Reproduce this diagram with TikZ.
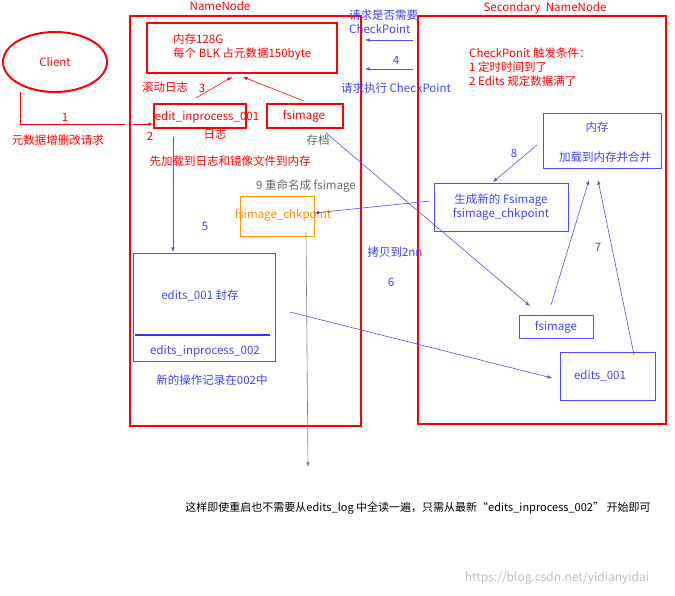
\documentclass[tikz,border=0pt]{standalone}
\usepackage{fontspec}
\setmainfont{Noto Sans CJK SC}
\usetikzlibrary{shapes.geometric}
\begin{document}
\begin{tikzpicture}[x=1pt,y=-1pt,
  red box/.style={draw=red,line width=2pt},
  blue box/.style={draw=blue!70,line width=0.6pt},
  bl/.style={draw=blue!70,line width=0.6pt},
  ba/.style={bl,-latex},
  rt/.style={text=red,font=\fontsize{11.5}{14}\selectfont,inner sep=0pt},
  bt/.style={text=blue!75,font=\fontsize{11.5}{14}\selectfont,inner sep=0pt},
  gt/.style={text=gray!80!black,font=\fontsize{11.5}{14}\selectfont,inner sep=0pt}]
\useasboundingbox (0,0) rectangle (675,595);
% containers
\node[red box,minimum width=231,minimum height=410,inner sep=0,anchor=north west] (nn) at (129,15) {};
\node[rt] (nnl) at (220,6) {NameNode};
\node[red box,minimum width=248,minimum height=408,inner sep=0,anchor=north west] (snn) at (417,15) {};
\node[rt] (snnl) at (545,8) {Secondary\ \ NameNode};
% client
\node[draw=red,line width=2pt,ellipse,minimum width=104,minimum height=60] (client) at (55,62) {};
\node[rt] at (55,62) {Client};
\coordinate (c1) at (20,92);
\coordinate (c2) at (20,124);
\coordinate (c3) at (125,124);
\draw[red,line width=0.6pt] (c1) -- (c2) -- (c3);
\node[rt] at (65,117) {1};
\node[rt] at (58,140) {元数据增删改请求};
% memory
\node[red box,minimum width=190,minimum height=50,inner sep=0,anchor=north west] (mem) at (146,22) {};
\node[rt,align=left,anchor=west] at (173,47) {内存128G\\每个 BLK 占元数据150byte};
\node[red box,minimum width=92,minimum height=24,inner sep=0,anchor=north west] (e001) at (153,103) {};
\node[rt] at (207,117) {edit\_inprocess\_001};
\node[red box,minimum width=76,minimum height=24,inner sep=0,anchor=north west] (fsi) at (266,103) {};
\node[rt] at (304,116) {fsimage};
\coordinate (a2s) at (133,124);
\draw[red,-latex,line width=0.6pt] (a2s) -- (e001.west |- a2s);
\node[rt] at (150,136) {2};
\node[rt] at (215,134) {日志};
\node[gt] at (318,140) {存档};
\node[rt] at (165,87) {滚动日志};
\node[rt] at (202,88) {3};
\draw[red,-latex,line width=0.6pt] (196,98) -- (232,77);
\draw[red,-latex,line width=0.6pt] (304,101) -- (243,77);
\node[rt] at (230,161) {先加载到日志和镜像文件到内存};
\node[gt] at (306,186) {9 重命名成 fsimage};
\node[draw=orange!80!yellow,minimum width=74,minimum height=40,inner sep=0,anchor=north west] (chk) at (240,196) {};
\node[text=orange!90!yellow,font=\fontsize{11.5}{14}\selectfont,inner sep=0] at (283,215) {fsimage\_chkpoint};
% edits box
\node[blue box,minimum width=142,minimum height=108,inner sep=0,anchor=north west] (eds) at (133,253) {};
\draw[ba] (173,137) -- (173,252);
\node[bt] at (205,226) {5};
\node[bt] at (200,295) {edits\_001 封存};
\draw[blue!80,line width=2pt] (135,335) -- (270,335);
\node[bt] at (205,351) {edits\_inprocess\_002};
\node[bt] at (212,380) {新的操作记录在002中};
\coordinate (gend) at (308,467);
\draw[gray,line width=0.6pt,-latex] (306,232) -- (gend);
% requests
\node[bt,align=left,anchor=north west] at (349,10) {请求是否需要\\CheckPoint};
\draw[ba] (413,40) -- (365,40);
\node[bt] at (396,60) {4};
\draw[ba] (413,69) -- (365,69);
\node[bt] at (396,88) {请求执行 CheckPoint};
\node[rt,align=left,anchor=north west] at (469,48) {CheckPonit 触发条件：\\1 定时时间到了\\2 Edits 规定数据满了};
% secondary
\node[blue box,minimum width=118,minimum height=55,inner sep=0,anchor=north west] (smem) at (543,113) {};
\node[bt] at (597,127) {内存};
\node[bt] at (605,157) {加载到内存并合并};
\node[blue box,minimum width=134,minimum height=48,inner sep=0,anchor=north west] (nfs) at (434,183) {};
\node[bt,align=center] at (501,207) {生成新的 Fsimage\\fsimage\_chkpoint};
\draw[ba] (537,145) -- (493,182);
\node[bt] at (514,153) {8};
\draw[ba] (430,201) -- (chk.east |- 0,213);
\node[blue box,minimum width=74,minimum height=23,inner sep=0,anchor=north west] (sfs) at (519,315) {};
\node[bt] at (556,327) {fsimage};
\node[blue box,minimum width=95,minimum height=48,inner sep=0,anchor=north west] (sed) at (560,352) {};
\node[bt] at (600,376) {edits\_001};
\draw[ba] (326,133) -- (530,306);
\draw[ba] (290,312) -- (552,378);
\node[bt] at (395,252) {拷贝到2nn};
\node[bt] at (391,282) {6};
\draw[ba] (551,305) -- (589,180);
\draw[ba] (634,355) -- (598,180);
\node[bt] at (598,247) {7};
\node[font=\fontsize{11}{14}\selectfont,inner sep=0] at (418,508) {这样即使重启也不需要从edits\_log 中全读一遍，只需从最新“edits\_inprocess\_002” 开始即可};
\node[text=gray!50,font=\fontsize{12}{14}\selectfont,inner sep=0] at (557,578) {https://blog.csdn.net/yidianyidai};
\end{tikzpicture}
\end{document}
